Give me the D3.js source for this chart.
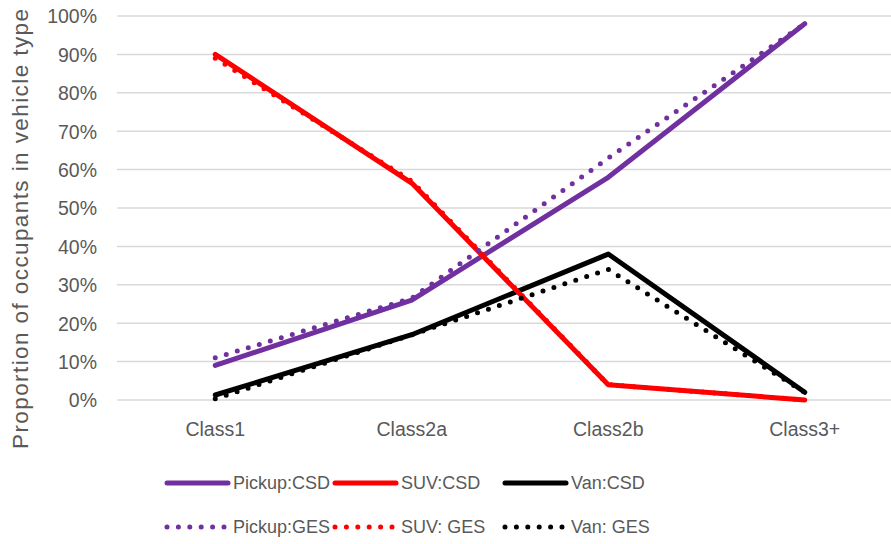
<!DOCTYPE html>
<html><head><meta charset="utf-8">
<script src="https://cdn.jsdelivr.net/npm/d3@7"></script>
<style>body{margin:0;background:#fff}svg{display:block}text{font-family:"Liberation Sans",Arial,sans-serif;fill:#595959}</style>
</head><body>
<svg id="c" width="891" height="544"></svg>
<script>
const categories = ["Class1","Class2a","Class2b","Class3+"];
const yTicks = [0,0.1,0.2,0.3,0.4,0.5,0.6,0.7,0.8,0.9,1.0];
const pickupCSD = [0.09,0.26,0.58,0.98];
const suvCSD    = [0.90,0.565,0.04,0.0];
const vanCSD    = [0.013,0.17,0.38,0.02];
const pickupGES = [0.11,0.265,0.63,0.98];
const suvGES    = [0.89,0.57,0.04,0.0];
const vanGES    = [0.003,0.17,0.34,0.02];

const series = [
  {name:"Van:CSD", values:vanCSD, color:"#000000", dotted:false, order:2},
  {name:"Pickup:CSD", values:pickupCSD, color:"#7030a0", dotted:false, order:0},
  {name:"SUV:CSD", values:suvCSD, color:"#ff0000", dotted:false, order:1},
  {name:"Pickup:GES", values:pickupGES, color:"#7030a0", dotted:true, order:3},
  {name:"SUV: GES", values:suvGES, color:"#ff0000", dotted:true, order:4},
  {name:"Van: GES", values:vanGES, color:"#000000", dotted:true, order:5}
];

const svg = d3.select("#c");
const x = d3.scaleBand().domain(categories).range([117, 903]);
const y = d3.scaleLinear().domain([0,1]).range([400, 16]);

// gridlines
svg.append("g").selectAll("line").data(yTicks).join("line")
  .attr("x1", 117).attr("x2", 891)
  .attr("y1", d=>y(d)).attr("y2", d=>y(d))
  .attr("stroke", "#d9d9d9").attr("stroke-width", 1.5);

// y axis labels
const yAxis = d3.axisLeft(y).tickValues(yTicks).tickFormat(d3.format(".0%")).tickSize(0).tickPadding(0);
const gy = svg.append("g").attr("transform","translate(97,0)").call(yAxis);
gy.select(".domain").remove();
gy.selectAll("text").attr("font-size", 19.5).attr("fill","#595959").attr("dy","0.35em")
  .style("font-family",'"Liberation Sans",Arial,sans-serif');

// x axis labels
const xAxis = d3.axisBottom(x).tickSize(0).tickPadding(0);
const gx = svg.append("g").attr("transform","translate(0,422)").call(xAxis);
gx.select(".domain").remove();
gx.selectAll("text").attr("font-size", 19.5).attr("fill","#595959")
  .style("font-family",'"Liberation Sans",Arial,sans-serif');

// y title
svg.append("text").attr("transform","translate(28,229) rotate(-90)")
  .attr("text-anchor","middle").attr("font-size", 22.5)
  .attr("textLength", 440).attr("lengthAdjust","spacing")
  .text("Proportion of occupants in vehicle type");

// lines
const line = d3.line().x((d,i)=>x(categories[i]) + x.bandwidth()/2).y(d=>y(d));
svg.append("g").selectAll("path").data(series).join("path")
  .attr("d", d=>line(d.values))
  .attr("fill","none")
  .attr("stroke", d=>d.color)
  .attr("stroke-width", 5)
  .attr("stroke-linecap","round").attr("stroke-linejoin","round")
  .attr("stroke-dasharray", d=>d.dotted?"0 11.5":null);

// legend
const legendPos = [
  {x:166, y:483},{x:334, y:483},{x:504, y:483},
  {x:166, y:527},{x:334, y:527},{x:504, y:527}
];
const legendSeries = series.slice().sort((a,b)=>a.order-b.order);
const lg = svg.append("g").selectAll("g").data(legendSeries).join("g")
  .attr("transform",(d,i)=>`translate(${legendPos[i].x},${legendPos[i].y})`);
lg.append("line").attr("x1", 1).attr("x2", 62).attr("y1",0).attr("y2",0)
  .attr("stroke", d=>d.color).attr("stroke-width",5).attr("stroke-linecap","round")
  .attr("stroke-dasharray", d=>d.dotted?"0 11.4":null);
lg.append("text").attr("x",67).attr("y",0).attr("dy","0.35em").attr("font-size",18)
  .text(d=>d.name);
</script>
</body></html>
